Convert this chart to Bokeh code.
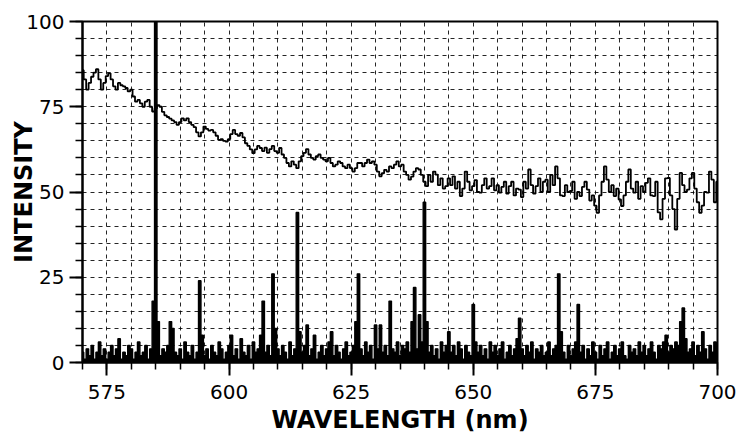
from bokeh.plotting import figure
from bokeh.models import Range1d, SingleIntervalTicker
from bokeh.embed import file_html
from bokeh.resources import INLINE

# Sampling grid of the two spectra (nm)
WL_START = 570.0
WL_STEP = 0.5

# Broad continuum emission, one value per 0.5 nm from 570 to 700 nm
continuum = [
    85.7, 83, 80, 82, 83.8, 85, 86, 83, 80, 82,            # 570
    84, 84.8, 83, 81, 80, 82, 81.3, 81, 80.5, 79.5,        # 575
    80, 78, 76.5, 77, 76, 75, 76.5, 77, 75, 73.6,          # 580
    74.5, 75.5, 75, 73.5, 72.5, 72, 71.5, 71, 70.5, 69.7,  # 585
    70.5, 71.6, 71, 71.6, 70.5, 69.7, 69, 67.5, 66.3, 67.5,  # 590
    69.2, 68.5, 68, 68.2, 67.5, 66.5, 65.3, 65.5, 65, 64.8,  # 595
    65.5, 67, 68.2, 67, 66.5, 67.3, 66, 64.3, 63.5, 62.5,  # 600
    61.4, 62.5, 63.5, 62.9, 62, 63, 61.5, 62.6, 63.5, 62,  # 605
    61.5, 62.9, 61, 60, 58.5, 57.5, 59, 58, 57, 59,        # 610
    60.5, 61.5, 62.6, 61, 60, 59.5, 60.5, 61, 60, 59.5,    # 615
    59, 60, 58.5, 57.5, 58, 59, 58.5, 57.5, 57, 58,        # 620
    57, 56, 57, 58.5, 58.5, 57.5, 58.5, 59.5, 58.5, 59,    # 625
    58, 56, 54.6, 55.5, 56.5, 56, 57.5, 57, 58, 59,        # 630
    57.5, 58, 56, 55, 53.6, 54.5, 56, 57, 56.6, 55,        # 635
    53, 51.7, 55, 53, 56, 55.1, 52, 54, 51, 51.7,          # 640
    54, 52, 54.6, 51, 53, 48.8, 51, 56, 53, 50.5,          # 645
    51.7, 53.5, 50, 49.8, 52, 54, 51, 51.7, 54, 50.5,      # 650
    52, 49.8, 51.5, 53, 49.5, 51.7, 53, 49, 51, 50.7,      # 655
    48.5, 53, 51, 56.6, 52, 49.5, 51.7, 54, 50, 53,        # 660
    53.6, 50, 55, 52, 57.5, 54, 49, 48.8, 52, 50,          # 665
    50.3, 53, 48, 50, 48.8, 51.5, 53, 50.7, 47.5, 49,      # 670
    46, 43.9, 49, 53, 57.5, 53.6, 50, 52, 48.8, 51,        # 675
    47.8, 45.9, 49, 53, 56.6, 51, 49.8, 53, 48, 51.7,      # 680
    50, 52.7, 54, 49, 48.8, 53, 44, 42, 48, 54,            # 685
    54.1, 49, 45, 39, 48, 55.6, 52, 50, 50.7, 54,          # 690
    55.6, 51, 47, 43.9, 46, 50, 49.8, 56, 53.6, 47,        # 695
    53,                                                    # 700
]

# Sharp line spectrum on a low noisy baseline, same sampling
lines = [
    3, 1, 4, 2, 5, 1, 3, 6, 2, 4,          # 570
    1, 3, 5, 2, 4, 7, 1, 3, 2, 5,          # 575
    4, 1, 3, 6, 2, 3, 5, 1, 4, 18,         # 580
    100, 12, 2, 4, 3, 5, 12, 10, 3, 2,     # 585
    4, 1, 6, 3, 2, 5, 1, 3, 24, 8,         # 590
    2, 4, 1, 5, 3, 2, 6, 4, 1, 3,          # 595
    5, 8, 2, 4, 1, 7, 3, 2, 5, 1,          # 600
    6, 3, 4, 8, 18, 3, 5, 2, 26, 10,       # 605
    4, 2, 5, 3, 1, 6, 2, 4, 44, 9,         # 610
    3, 5, 11, 2, 4, 8, 1, 3, 5, 2,         # 615
    4, 6, 9, 2, 5, 3, 1, 4, 6, 2,          # 620
    3, 5, 12, 26, 4, 2, 6, 3, 5, 1,        # 625
    11, 4, 11, 3, 5, 2, 18, 4, 3, 6,       # 630
    2, 5, 4, 6, 3, 12, 22, 4, 14, 6,       # 635
    47, 12, 3, 5, 2, 4, 1, 6, 3, 5,        # 640
    9, 3, 5, 2, 6, 4, 1, 5, 3, 2,          # 645
    17, 6, 3, 5, 2, 4, 1, 6, 3, 5,         # 650
    2, 4, 6, 1, 3, 5, 2, 4, 7, 13,         # 655
    4, 2, 5, 3, 6, 1, 4, 3, 5, 2,          # 660
    3, 6, 2, 4, 5, 26, 9, 3, 1, 5,         # 665
    2, 4, 6, 17, 3, 5, 1, 4, 2, 6,         # 670
    3, 1, 5, 2, 4, 6, 1, 3, 5, 2,          # 675
    4, 6, 2, 1, 5, 3, 4, 2, 6, 3,          # 680
    5, 2, 4, 6, 3, 1, 5, 4, 6, 8,          # 685
    3, 5, 4, 6, 5, 12, 16, 7, 3, 4,        # 690
    6, 2, 5, 3, 9, 4, 1, 5, 3, 6,          # 695
    2,                                     # 700
]

wavelength = [WL_START + WL_STEP * i for i in range(len(continuum))]

x_ticks_major = 25
y_ticks_major = 25
grid_step = 5

p = figure(
    width=741, height=436,
    output_backend="svg", toolbar_location=None,
    x_range=Range1d(570, 700), y_range=Range1d(0, 100),
    min_border_left=82, min_border_right=24,
    min_border_top=21, min_border_bottom=72,
)
p.background_fill_color = "white"
p.border_fill_color = "white"
p.outline_line_color = "black"
p.outline_line_width = 2

# dashed grid every 5 units in both directions
p.xgrid.ticker = SingleIntervalTicker(interval=grid_step)
p.ygrid.ticker = SingleIntervalTicker(interval=grid_step)
for g in (p.xgrid, p.ygrid):
    g.grid_line_color = "black"
    g.grid_line_dash = "4 4"
    g.grid_line_width = 1
    g.grid_line_alpha = 0.85

p.xaxis.ticker = SingleIntervalTicker(interval=x_ticks_major, num_minor_ticks=5)
p.yaxis.ticker = SingleIntervalTicker(interval=y_ticks_major, num_minor_ticks=5)

for ax in (p.xaxis, p.yaxis):
    ax.axis_line_color = "black"
    ax.axis_line_width = 2
    ax.major_tick_line_color = "black"
    ax.major_tick_line_width = 2
    ax.minor_tick_line_color = "black"
    ax.minor_tick_line_width = 1.5
    ax.major_tick_in = 0
    ax.major_tick_out = 13
    ax.minor_tick_in = 0
    ax.minor_tick_out = 7
    ax.major_label_text_font = "DejaVu Sans"
    ax.major_label_text_font_size = "20px"
    ax.major_label_text_color = "black"
    ax.axis_label_text_font = "DejaVu Sans"
    ax.axis_label_text_font_style = "bold"
    ax.axis_label_text_font_size = "24px"
    ax.axis_label_text_color = "black"

p.xaxis.axis_label = "WAVELENGTH (nm)"
p.yaxis.axis_label = "INTENSITY"
p.xaxis.major_label_standoff = 9
p.yaxis.major_label_standoff = 5
p.xaxis.axis_label_standoff = 4
p.yaxis.axis_label_standoff = -15

p.step(wavelength, continuum, mode="center", line_color="black", line_width=1.8)

# line spectrum drawn as a filled staircase so the noisy baseline reads as a band
p.varea_step(x=wavelength, y1=0, y2=lines, step_mode="center", fill_color="black")
p.step(wavelength, lines, mode="center", line_color="black", line_width=1.4)

open("out.html", "w").write(file_html(p, INLINE))
